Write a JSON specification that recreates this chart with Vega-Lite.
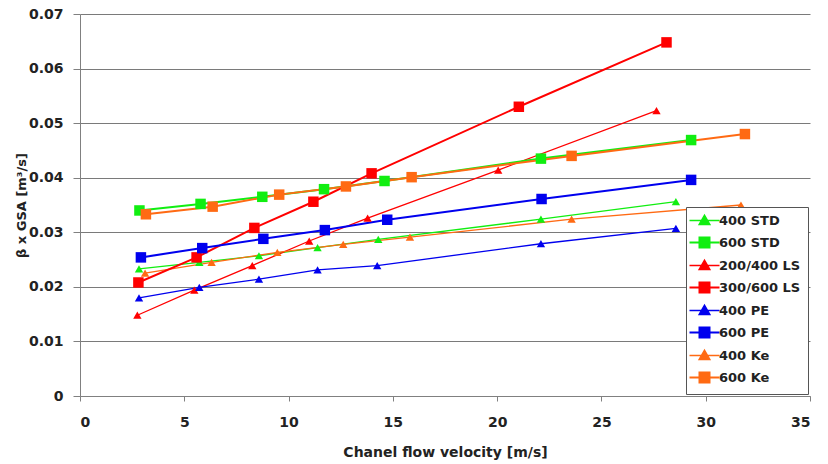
{
  "$schema": "https://vega.github.io/schema/vega-lite/v6.json",
  "autosize": "none",
  "width": 730,
  "height": 382,
  "padding": {"left": 80, "top": 14, "right": 18, "bottom": 68},
  "background": "white",
  "config": {
    "view": {"stroke": null},
    "font": "DejaVu Sans",
    "axis": {
      "domainColor": "#808080",
      "tickColor": "#808080",
      "labelFont": "DejaVu Sans",
      "labelFontWeight": "bold",
      "labelFontSize": 14,
      "labelColor": "#222",
      "titleFont": "DejaVu Sans",
      "titleFontWeight": "bold",
      "titleFontSize": 14,
      "titleColor": "#222"
    }
  },
  "data": {
    "values": [
      {"series": "400 STD", "v": 2.83, "y": 0.0233},
      {"series": "400 STD", "v": 5.72, "y": 0.0245},
      {"series": "400 STD", "v": 8.58, "y": 0.0257},
      {"series": "400 STD", "v": 11.39, "y": 0.0272},
      {"series": "400 STD", "v": 14.3, "y": 0.0287},
      {"series": "400 STD", "v": 22.1, "y": 0.0324},
      {"series": "400 STD", "v": 28.57, "y": 0.0356},
      {"series": "600 STD", "v": 2.85, "y": 0.034},
      {"series": "600 STD", "v": 5.78, "y": 0.0352},
      {"series": "600 STD", "v": 8.74, "y": 0.0365},
      {"series": "600 STD", "v": 11.7, "y": 0.0379},
      {"series": "600 STD", "v": 14.6, "y": 0.0394},
      {"series": "600 STD", "v": 22.1, "y": 0.0435},
      {"series": "600 STD", "v": 29.3, "y": 0.0469},
      {"series": "200/400 LS", "v": 2.75, "y": 0.0148},
      {"series": "200/400 LS", "v": 5.48, "y": 0.0194},
      {"series": "200/400 LS", "v": 8.26, "y": 0.0239},
      {"series": "200/400 LS", "v": 10.99, "y": 0.0284},
      {"series": "200/400 LS", "v": 13.79, "y": 0.0326},
      {"series": "200/400 LS", "v": 20.05, "y": 0.0414},
      {"series": "200/400 LS", "v": 27.64, "y": 0.0523},
      {"series": "300/600 LS", "v": 2.8, "y": 0.0208},
      {"series": "300/600 LS", "v": 5.59, "y": 0.0254},
      {"series": "300/600 LS", "v": 8.36, "y": 0.0308},
      {"series": "300/600 LS", "v": 11.19, "y": 0.0356},
      {"series": "300/600 LS", "v": 13.98, "y": 0.0408},
      {"series": "300/600 LS", "v": 21.04, "y": 0.053},
      {"series": "300/600 LS", "v": 28.12, "y": 0.0648},
      {"series": "400 PE", "v": 2.83, "y": 0.018},
      {"series": "400 PE", "v": 5.72, "y": 0.0199},
      {"series": "400 PE", "v": 8.58, "y": 0.0214},
      {"series": "400 PE", "v": 11.39, "y": 0.0231},
      {"series": "400 PE", "v": 14.25, "y": 0.0239},
      {"series": "400 PE", "v": 22.1, "y": 0.0279},
      {"series": "400 PE", "v": 28.57, "y": 0.0307},
      {"series": "600 PE", "v": 2.92, "y": 0.0254},
      {"series": "600 PE", "v": 5.86, "y": 0.0271},
      {"series": "600 PE", "v": 8.79, "y": 0.0288},
      {"series": "600 PE", "v": 11.74, "y": 0.0304},
      {"series": "600 PE", "v": 14.73, "y": 0.0323},
      {"series": "600 PE", "v": 22.13, "y": 0.0361},
      {"series": "600 PE", "v": 29.3, "y": 0.0396},
      {"series": "400 Ke", "v": 3.12, "y": 0.0225},
      {"series": "400 Ke", "v": 6.31, "y": 0.0245},
      {"series": "400 Ke", "v": 9.46, "y": 0.0263},
      {"series": "400 Ke", "v": 12.62, "y": 0.0278},
      {"series": "400 Ke", "v": 15.82, "y": 0.0291},
      {"series": "400 Ke", "v": 23.57, "y": 0.0324},
      {"series": "400 Ke", "v": 31.69, "y": 0.035},
      {"series": "600 Ke", "v": 3.16, "y": 0.0333},
      {"series": "600 Ke", "v": 6.36, "y": 0.0347},
      {"series": "600 Ke", "v": 9.55, "y": 0.0369},
      {"series": "600 Ke", "v": 12.75, "y": 0.0384},
      {"series": "600 Ke", "v": 15.9, "y": 0.0401},
      {"series": "600 Ke", "v": 23.57, "y": 0.044},
      {"series": "600 Ke", "v": 31.88, "y": 0.048}
    ]
  },
  "encoding": {
    "x": {
      "field": "v", "type": "quantitative",
      "scale": {"domain": [0, 35], "nice": false, "zero": false},
      "axis": {"values": [0, 5, 10, 15, 20, 25, 30, 35], "grid": false, "tickSize": 5, "labelPadding": 14, "title": "Chanel flow velocity [m/s]", "titlePadding": 16}
    },
    "y": {
      "field": "y", "type": "quantitative",
      "scale": {"domain": [0, 0.07], "nice": false},
      "axis": {"values": [0, 0.01, 0.02, 0.03, 0.04, 0.05, 0.06, 0.07], "format": ".2~f", "grid": true, "gridColor": "#7a7a7a", "gridWidth": 1, "tickSize": 7, "labelPadding": 10, "title": "β x GSA [m³/s]", "titleFontSize": 13, "titlePadding": 0}
    },
    "color": {
      "field": "series", "type": "nominal",
      "scale": {
        "domain": ["400 STD", "600 STD", "200/400 LS", "300/600 LS", "400 PE", "600 PE", "400 Ke", "600 Ke"],
        "range": ["#11ee11", "#11ee11", "#ff0000", "#ff0000", "#0000ee", "#0000ee", "#ff6a13", "#ff6a13"]
      },
      "legend": {
        "title": null,
        "orient": "bottom-right",
        "offset": 2,
        "padding": 7,
        "strokeColor": "#555555",
        "fillColor": "white",
        "labelFont": "DejaVu Sans",
        "labelFontWeight": "bold",
        "labelFontSize": 13,
        "labelColor": "#222",
        "labelOffset": 13,
        "rowPadding": 5,
        "symbolSize": 400,
        "encode": {
          "symbols": {
            "update": {
              "shape": {"signal": "indexof(['400 STD','200/400 LS','400 PE','400 Ke'], datum.value) >= 0 ? 'M-1,0H2M0.5,-0.55L1.05,0.4L-0.05,0.4Z' : 'M-1,0H2M0,-0.5H1V0.5H0Z'"},
              "strokeWidth": {"signal": "indexof(['400 STD','200/400 LS','400 PE','400 Ke'], datum.value) >= 0 ? 1.3 : 2"},
              "fill": {"scale": "color", "field": "value"},
              "stroke": {"scale": "color", "field": "value"},
              "opacity": {"value": 1},
              "fillOpacity": {"value": 1},
              "strokeOpacity": {"value": 1},
              "size": {"value": 400}
            }
          }
        }
      }
    }
  },
  "layer": [
    {
      "transform": [{"filter": {"field": "series", "oneOf": ["400 STD", "200/400 LS", "400 PE", "400 Ke"]}}],
      "mark": {"type": "line", "strokeWidth": 1.3}
    },
    {
      "transform": [{"filter": {"field": "series", "oneOf": ["600 STD", "300/600 LS", "600 PE", "600 Ke"]}}],
      "mark": {"type": "line", "strokeWidth": 2}
    },
    {
      "transform": [{"filter": {"field": "series", "oneOf": ["400 STD", "200/400 LS", "400 PE", "400 Ke"]}}],
      "mark": {"type": "point", "shape": "triangle-up", "filled": true, "size": 70, "opacity": 1}
    },
    {
      "transform": [{"filter": {"field": "series", "oneOf": ["600 STD", "300/600 LS", "600 PE", "600 Ke"]}}],
      "mark": {"type": "point", "shape": "square", "filled": true, "size": 110, "opacity": 1}
    }
  ]
}
